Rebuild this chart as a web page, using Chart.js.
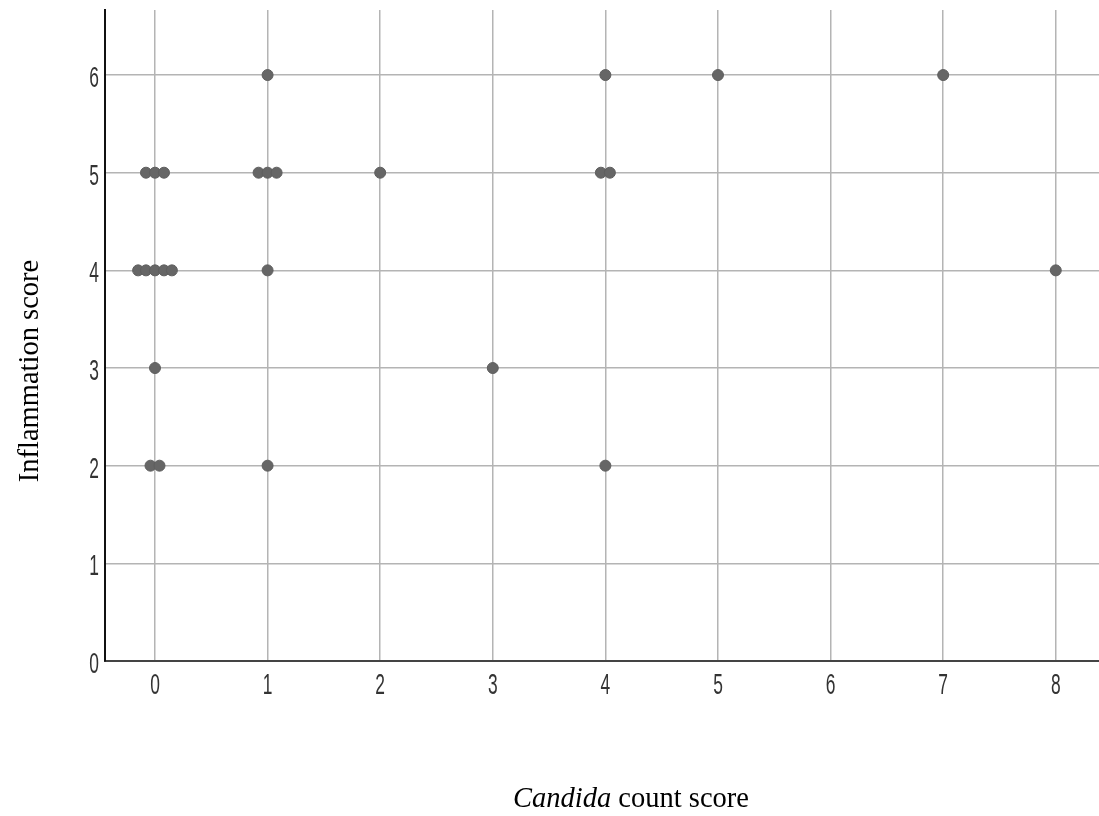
<!DOCTYPE html>
<html>
<head>
<meta charset="utf-8">
<script src="https://cdn.jsdelivr.net/npm/chart.js@4"></script>
<style>
  html, body { margin: 0; padding: 0; background: #fff; overflow: hidden; }
  #wrap { position: relative; width: 1099px; height: 816px; }
</style>
</head>
<body>
<div id="wrap"><canvas id="chart-scatter"></canvas></div>
<script>
/* valores (x com o leve deslocamento dos pontos empilhados) */
const candidaX      = [-0.08, 0, 0.08, -0.15, -0.08, 0, 0.08, 0.15, 0, -0.04, 0.04,
                       0.92, 1, 1.08, 1, 1, 1, 2, 3, 3.96, 4.04, 4, 4, 5, 7, 8];
const inflammationY = [5, 5, 5, 4, 4, 4, 4, 4, 3, 2, 2,
                       5, 5, 5, 6, 4, 2, 5, 3, 5, 5, 6, 2, 6, 6, 4];
const xTicks = [0, 1, 2, 3, 4, 5, 6, 7, 8];
const yTicks = [0, 1, 2, 3, 4, 5, 6];

const xTitle = ['Candida', ' count score'];
const yTitle = 'Inflammation score';

const SERIF = "'Liberation Serif', 'Times New Roman', serif";
const TICK_FONT = "29px 'Liberation Sans', Arial, sans-serif";

/* rótulos dos ticks em fonte estreita (escala horizontal) + títulos dos eixos */
const labelsPlugin = {
  id: 'labels',
  afterDraw(chart) {
    const c  = chart.ctx;
    const sx = chart.scales.x, sy = chart.scales.y;
    const squeeze = 0.6;
    c.save();
    c.fillStyle = '#333';
    c.font = TICK_FONT;
    c.textBaseline = 'middle';
    xTicks.forEach(v => {
      c.save();
      c.translate(sx.getPixelForValue(v), 686);
      c.scale(squeeze, 1);
      c.textAlign = 'center';
      c.fillText(String(v), 0, 0);
      c.restore();
    });
    yTicks.forEach(v => {
      c.save();
      c.translate(99, sy.getPixelForValue(v) + 4);
      c.scale(squeeze, 1);
      c.textAlign = 'right';
      c.fillText(String(v), 0, 0);
      c.restore();
    });
    c.restore();

    c.save();
    c.fillStyle = '#000';
    c.textBaseline = 'alphabetic';
    const it = 'italic 28.5px ' + SERIF;
    const rg = '28.5px ' + SERIF;
    c.font = it; const w1 = c.measureText(xTitle[0]).width;
    c.font = rg; const w2 = c.measureText(xTitle[1]).width;
    const x0 = 631 - (w1 + w2) / 2;
    c.textAlign = 'left';
    c.font = it; c.fillText(xTitle[0], x0, 807);
    c.font = rg; c.fillText(xTitle[1], x0 + w1, 807);

    c.translate(38, 371);
    c.rotate(-Math.PI / 2);
    c.textAlign = 'center';
    c.font = rg;
    c.fillText(yTitle, 0, 0);
    c.restore();
  }
};

function intTicks(list) {
  return scale => { scale.ticks = list.map(v => ({ value: v })); };
}

function noPad(s) {
  s.paddingTop = 0; s.paddingBottom = 0;
  s.paddingLeft = 0; s.paddingRight = 0;
}

document.addEventListener('DOMContentLoaded', () => {
  const pts = candidaX.map((x, i) => ({ x, y: inflammationY[i] }));
  new Chart(document.getElementById('chart-scatter'), {
    type: 'scatter',
    data: {
      datasets: [{
        data: pts,
        backgroundColor: '#666666',
        borderColor: '#5e5e5e',
        borderWidth: 1,
        pointRadius: 5.5,
        pointHoverRadius: 5.5,
      }],
    },
    options: {
      responsive: true,
      maintainAspectRatio: false,
      animation: false,
      layout: { autoPadding: false, padding: { top: 10, right: 0, left: 0, bottom: 0 } },
      plugins: { legend: { display: false }, tooltip: { enabled: false } },
      scales: {
        x: {
          type: 'linear',
          min: -0.444,
          max: 8.384,
          afterBuildTicks: intTicks(xTicks),
          afterFit: s => { s.height = 155; noPad(s); },
          grid: { color: '#b4b4b4', lineWidth: 1.5, drawTicks: false },
          border: { color: '#444', width: 2 },
          ticks: { display: false },
        },
        y: {
          type: 'linear',
          min: 0,
          max: 6.666,
          afterBuildTicks: intTicks(yTicks),
          afterFit: s => { s.width = 105; noPad(s); },
          grid: { color: '#b4b4b4', lineWidth: 1.5, drawTicks: false },
          border: { color: '#111', width: 2 },
          ticks: { display: false },
        },
      },
    },
    plugins: [labelsPlugin],
  });
});
</script>
</body>
</html>
